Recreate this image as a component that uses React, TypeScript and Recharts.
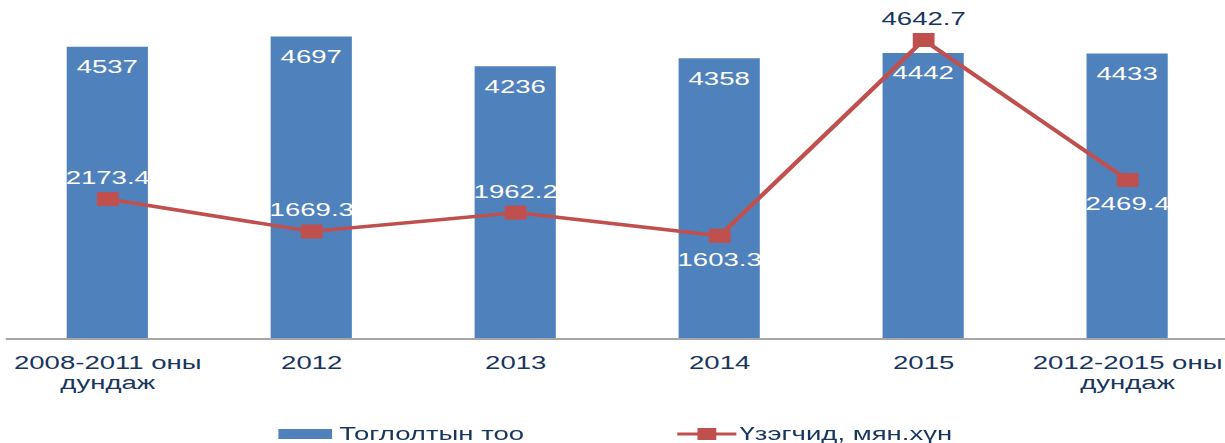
import { ComposedChart, Bar, Line, XAxis, YAxis, LabelList, Legend } from 'recharts';

const categories = ['2008-2011 оны\nдундаж', '2012', '2013', '2014', '2015', '2012-2015 оны\nдундаж'];
const performances = [4537, 4697, 4236, 4358, 4442, 4433];
const audience = [2173.4, 1669.3, 1962.2, 1603.3, 4642.7, 2469.4];

const data = categories.map((name, i) => ({
  name,
  performances: performances[i],
  audience: audience[i],
}));

const BAR = '#4F81BD';
const LINE = '#C0504D';
const NAVY = '#17365D';
// the source picture is stretched sideways, so the chart is drawn narrow and scaled
const STRETCH = 1.45;
const W = 845;
const H = 443;
const labelsBelow = [3, 5];

function CategoryTick(props: any) {
  const { x, y, payload } = props;
  const lines = String(payload.value).split('\n');
  return (
    <text x={x} y={y} textAnchor="middle" fill={NAVY} fontSize={19}>
      {lines.map((l, i) => (
        <tspan key={i} x={x} dy={i === 0 ? 22 : 20}>
          {l}
        </tspan>
      ))}
    </text>
  );
}

function SquareDot(props: any) {
  const { cx, cy, index } = props;
  return <rect key={index} x={cx - 7.5} y={cy - 7} width={15} height={14} fill={LINE} />;
}

function LineLabel(props: any) {
  const { x, y, value, index } = props;
  const below = labelsBelow.includes(index);
  const overBar = below || value < performances[index];
  return (
    <text
      x={x}
      y={below ? y + 30 : y - 15}
      textAnchor="middle"
      fontSize={19}
      fill={overBar ? '#ffffff' : NAVY}
    >
      {value}
    </text>
  );
}

function LegendContent() {
  return (
    <div style={{ position: 'relative', height: 24, fontSize: 19, color: NAVY }}>
      <div style={{ position: 'absolute', left: 192, top: 0, display: 'flex', alignItems: 'center', height: 24 }}>
        <span style={{ display: 'inline-block', width: 37, height: 10, background: BAR, marginRight: 5 }} />
        <span>Тоглолтын тоо</span>
      </div>
      <div style={{ position: 'absolute', left: 467, top: 0, display: 'flex', alignItems: 'center', height: 24 }}>
        <svg width={41} height={14} style={{ marginRight: 2 }}>
          <line x1={0} y1={7} x2={41} y2={7} stroke={LINE} strokeWidth={3} />
          <rect x={14} y={1} width={13} height={12} fill={LINE} />
        </svg>
        <span>Үзэгчид, мян.хүн</span>
      </div>
    </div>
  );
}

export default function App() {
  return (
    <div
      style={{
        position: 'absolute',
        left: 0,
        top: 0,
        width: W,
        height: H,
        transform: `scaleX(${STRETCH})`,
        transformOrigin: '0 0',
        fontFamily: '"Liberation Sans", Arial, sans-serif',
        background: '#ffffff',
      }}
    >
      <ComposedChart
        width={W}
        height={H}
        data={data}
        margin={{ top: 17, right: -3, left: 4, bottom: 20 }}
        barCategoryGap="30%"
      >
        <XAxis
          dataKey="name"
          interval={0}
          tickLine={false}
          axisLine={{ stroke: '#A6A6A6', strokeWidth: 2 }}
          tick={<CategoryTick />}
          height={60}
        />
        <YAxis hide domain={[0, 5000]} />
        <Legend
          verticalAlign="bottom"
          height={24}
          content={<LegendContent />}
          wrapperStyle={{ top: 422, bottom: 'auto', left: 0, width: W }}
        />
        <Bar dataKey="performances" name="Тоглолтын тоо" fill={BAR} barSize={56} isAnimationActive={false}>
          <LabelList dataKey="performances" position="insideTop" offset={13} fill="#ffffff" fontSize={19} />
        </Bar>
        <Line
          dataKey="audience"
          name="Үзэгчид, мян.хүн"
          stroke={LINE}
          strokeWidth={3.5}
          dot={<SquareDot />}
          activeDot={false}
          isAnimationActive={false}
        >
          <LabelList dataKey="audience" content={<LineLabel />} />
        </Line>
      </ComposedChart>
    </div>
  );
}
